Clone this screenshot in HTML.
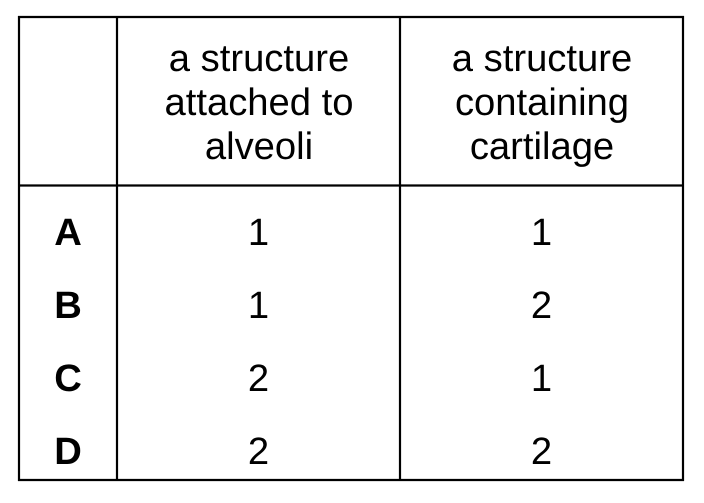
<!DOCTYPE html>
<html>
<head>
<meta charset="utf-8">
<style>
html,body{margin:0;padding:0;background:#fff;width:704px;height:503px;overflow:hidden}
svg{display:block}
text{font-family:"Liberation Sans",Arial,sans-serif;font-size:38.2px;fill:#000;text-anchor:middle;text-rendering:geometricPrecision}
.b{font-weight:bold}
line{stroke:#000;stroke-width:2.2}
</style>
</head>
<body>
<svg width="704" height="503" viewBox="0 0 704 503" xmlns="http://www.w3.org/2000/svg">
<line x1="18" y1="17" x2="684" y2="17"/>
<line x1="18" y1="185.5" x2="684" y2="185.5"/>
<line x1="18" y1="480" x2="684" y2="480"/>
<line x1="19" y1="16" x2="19" y2="481"/>
<line x1="117" y1="16" x2="117" y2="481"/>
<line x1="400" y1="16" x2="400" y2="481"/>
<line x1="683" y1="16" x2="683" y2="481"/>
<text x="259" y="71">a structure</text>
<text x="259" y="115">attached to</text>
<text x="259" y="159">alveoli</text>
<text x="542" y="71">a structure</text>
<text x="542" y="115">containing</text>
<text x="542" y="159">cartilage</text>
<text class="b" x="68" y="245">A</text>
<text class="b" x="68" y="318">B</text>
<text class="b" x="68" y="391">C</text>
<text class="b" x="68" y="464">D</text>
<text x="258.5" y="245">1</text>
<text x="258.5" y="318">1</text>
<text x="258.5" y="391">2</text>
<text x="258.5" y="464">2</text>
<text x="541.5" y="245">1</text>
<text x="541.5" y="318">2</text>
<text x="541.5" y="391">1</text>
<text x="541.5" y="464">2</text>
</svg>
</body>
</html>
